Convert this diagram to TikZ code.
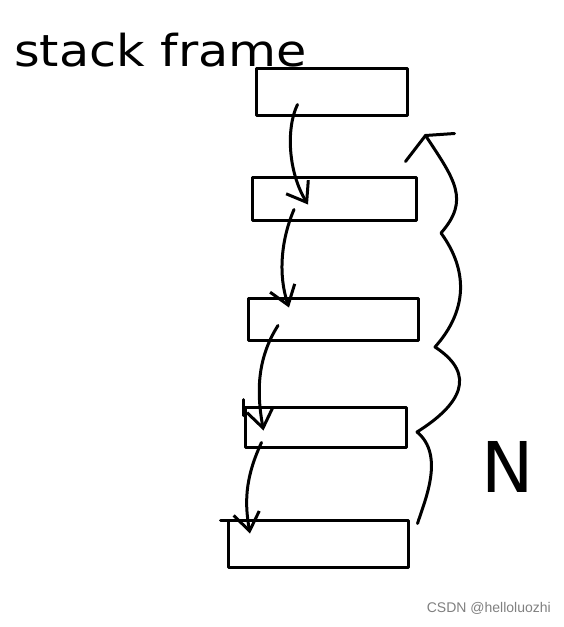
\documentclass[tikz,border=0pt]{standalone}
\usepackage{fontspec}
\setmainfont{DejaVu Sans}
\newfontfamily\wmfont{Liberation Sans}
\usetikzlibrary{arrows.meta,calc}
\begin{document}
\begin{tikzpicture}[x=1pt,y=-1pt,
  ln/.style={line width=3pt, line cap=round, line join=round},
  framebox/.style={ln, draw, rectangle, inner sep=0pt},
  arr/.style={ln, -{Straight Barb[length=18pt,width=26pt,line width=3pt]}},
  handtext/.style={inner sep=0pt, text=black}
]
\useasboundingbox (0,0) rectangle (563,627);
\fill[white] (0,0) rectangle (563,627);

% text
\node[handtext, anchor=base west, font=\fontsize{44}{44}\selectfont] (title) at (14,66) {\scalebox{1.12}[1]{stack frame}};
\node[handtext, font=\fontsize{70}{70}\selectfont] (n) at (508,467) {N};
\node[inner sep=0pt, text=black!50, font=\wmfont\fontsize{14}{14}\selectfont, anchor=east] (wm) at (551,608) {CSDN @helloluozhi};

% frames
\node[framebox, minimum width=151pt, minimum height=47pt] (b1) at (331.5,91.5) {};
\node[framebox, minimum width=164pt, minimum height=43pt] (b2) at (334,198.5) {};
\node[framebox, minimum width=170pt, minimum height=42pt] (b3) at (333,319) {};
\node[framebox, minimum width=161pt, minimum height=40pt] (b4) at (325.5,427) {};
\node[framebox, minimum width=180pt, minimum height=47pt] (b5) at (318,543.5) {};

% small strokes at left of the lower frames
\draw[ln] ($(b4.north west)+(0,-6)$) -- ($(b4.north west)+(0,10)$);
\draw[ln] ($(b5.north west)+(-6,1.5)$) -- ($(b5.north west)+(1.5,1.5)$);

% call arrows
\draw[arr] ($(b1.south)+(-34,-12)$) .. controls (286,128) and (288,172) .. ($(b2.north)+(-26,29)$);
\draw[arr] ($(b2.south)+(-40,-12)$) .. controls (281,240) and (278,275) .. ($(b3.north)+(-44,11)$);
\draw[arr] ($(b3.south)+(-55,-16)$) .. controls (256,360) and (257,395) .. ($(b4.north)+(-62,25)$);
\draw[arr] ($(b4.south)+(-64,-6)$) .. controls (244,480) and (245,505) .. ($(b5.north)+(-68,15)$);

% return curve
\coordinate (rs) at ($(b5.north east)+(8,5)$);
\coordinate (rt) at ($(b2.north east)+(8,-40)$);
\draw[ln] (rs) .. controls (425,500) and (445,455) .. (417,432)
  .. controls (460,405) and (478,375) .. (435,347)
  .. controls (468,310) and (468,270) .. (441,233)
  .. controls (470,200) and (455,180) .. (rt);
\draw[ln] ($(rt)+(29,-2)$) -- (rt) -- ($(rt)+(-20,26)$);
\end{tikzpicture}
\end{document}
